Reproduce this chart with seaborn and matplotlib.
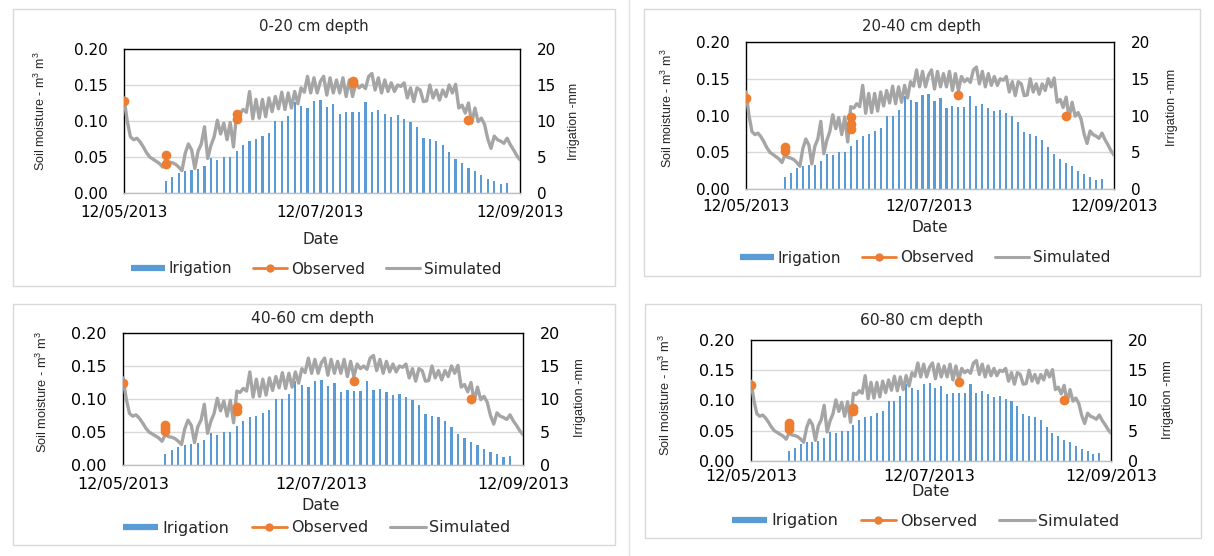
import numpy as np
import pandas as pd
import matplotlib
matplotlib.use("Agg")
import matplotlib.pyplot as plt
from matplotlib.lines import Line2D
from matplotlib.patches import Rectangle
import seaborn as sns

# ---------------- data ----------------
start_date = "2013-05-12"
sim_day = list(range(124))
simulated = [0.132, 0.100, 0.078, 0.074, 0.076, 0.071, 0.064, 0.056, 0.050, 0.047,
             0.044, 0.041, 0.036, 0.046, 0.043, 0.042, 0.040, 0.036, 0.031, 0.055,
             0.068, 0.060, 0.034, 0.058, 0.068, 0.092, 0.048, 0.066, 0.078, 0.101,
             0.082, 0.097, 0.074, 0.098, 0.064, 0.112, 0.110, 0.116, 0.112, 0.141,
             0.103, 0.130, 0.104, 0.130, 0.106, 0.132, 0.113, 0.134, 0.117, 0.140,
             0.116, 0.139, 0.118, 0.141, 0.124, 0.146, 0.140, 0.162, 0.139, 0.160,
             0.139, 0.155, 0.162, 0.136, 0.160, 0.139, 0.157, 0.139, 0.160, 0.134,
             0.157, 0.134, 0.153, 0.146, 0.150, 0.145, 0.162, 0.166, 0.143, 0.160,
             0.139, 0.157, 0.141, 0.153, 0.141, 0.150, 0.148, 0.153, 0.132, 0.146,
             0.127, 0.146, 0.143, 0.127, 0.128, 0.150, 0.132, 0.143, 0.129, 0.143,
             0.134, 0.150, 0.139, 0.151, 0.118, 0.122, 0.111, 0.125, 0.097, 0.118,
             0.099, 0.104, 0.095, 0.075, 0.062, 0.079, 0.074, 0.072, 0.069, 0.076,
             0.067, 0.060, 0.052, 0.046]

irrigation_day = [0, 13, 15, 17, 19, 21, 23, 25, 27, 29, 31, 33, 35, 37, 39, 41, 43, 45,
                  47, 49, 51, 53, 55, 57, 59, 61, 63, 65, 67, 69, 71, 73, 75, 77, 79,
                  81, 83, 85, 87, 89, 91, 93, 95, 97, 99, 101, 103, 105, 107, 109, 111,
                  113, 115, 117, 119]
irrigation_mm = [3.6, 1.7, 2.2, 2.8, 3.1, 3.2, 3.3, 3.8, 4.8, 4.6, 5.0, 5.0, 5.9, 6.7,
                 7.2, 7.5, 7.9, 8.3, 10.0, 10.0, 10.7, 12.7, 12.1, 11.8, 12.8, 12.9,
                 12.0, 12.4, 11.0, 11.3, 11.2, 11.2, 12.7, 11.3, 11.5, 11.0, 10.6, 10.8,
                 10.3, 9.9, 9.1, 7.7, 7.5, 7.2, 6.7, 5.7, 4.7, 4.1, 3.5, 3.1, 2.5, 2.0,
                 1.6, 1.2, 1.4]

obs_day_1 = [0, 13, 13, 35, 35, 71, 71, 107]
obs_val_1 = [0.128, 0.053, 0.040, 0.110, 0.103, 0.156, 0.153, 0.101]
obs_day_2 = [0, 13, 13, 35, 35, 35, 71, 107]
obs_val_2 = [0.124, 0.057, 0.052, 0.098, 0.089, 0.082, 0.128, 0.100]
obs_day_3 = [0, 13, 13, 13, 35, 35, 71, 107]
obs_val_3 = [0.124, 0.061, 0.056, 0.051, 0.088, 0.082, 0.127, 0.100]
obs_day_4 = [0, 13, 13, 13, 35, 35, 71, 107]
obs_val_4 = [0.126, 0.062, 0.058, 0.053, 0.087, 0.082, 0.130, 0.101]

titles = ["0-20 cm depth", "20-40 cm depth", "40-60 cm depth", "60-80 cm depth"]
x_tick_dates = ["2013-05-12", "2013-07-12", "2013-09-12"]
x_tick_labels = ["12/05/2013", "12/07/2013", "12/09/2013"]
left_ticks = [0.00, 0.05, 0.10, 0.15, 0.20]
right_ticks = [0, 5, 10, 15, 20]
legend_labels = ["Irigation", "Observed", "Simulated"]
x_label = "Date"
y_label = "Soil moisture - m$^3$ m$^3$"
y2_label = "Irrigation -mm"

# ---------------- styling ----------------
sns.set_theme(style="white")
plt.rcParams["font.family"] = ["DejaVu Sans"]
plt.rcParams["mathtext.fontset"] = "custom"
plt.rcParams["mathtext.rm"] = "Liberation Sans"
plt.rcParams["mathtext.it"] = "Liberation Sans"

BLUE = "#5B9BD5"
ORANGE = "#ED7D31"
GRAY = "#A5A5A5"
W, H = 1214, 556

def fx(x):
    return x / W

def fy(y):
    return 1 - y / H

# layout (pixels): plot box, title, date label, y labels, legend centre, chart box, font size
layouts = [
    dict(plot=(124, 49, 520, 193), title=(314, 26), date=(321, 239), ylab=(40, 111),
         rlab=(574, 121), leg=(316, 269), box=(13, 9, 615, 286), fs=11, rfs=9.0, xpad=5.3),
    dict(plot=(746, 42, 1114, 189), title=(921, 27), date=(930, 227), ylab=(667, 108),
         rlab=(1172, 107), leg=(925, 258), box=(644, 9, 1200, 276), fs=11, rfs=9.0, xpad=4.5),
    dict(plot=(123, 333, 523, 465), title=(313, 319), date=(321, 506), ylab=(42, 392),
         rlab=(580, 398), leg=(317, 528), box=(13, 304, 615, 545), fs=11.5, rfs=9.2, xpad=6.0),
    dict(plot=(751, 340, 1111, 461), title=(922, 320), date=(931, 492), ylab=(665, 395),
         rlab=(1168, 400), leg=(926, 521), box=(645, 304, 1201, 538), fs=11.5, rfs=9.2, xpad=3.0),
]
observations = [(obs_day_1, obs_val_1), (obs_day_2, obs_val_2),
                (obs_day_3, obs_val_3), (obs_day_4, obs_val_4)]

t0 = pd.Timestamp(start_date)
sim_df = pd.DataFrame({"date": t0 + pd.to_timedelta(sim_day, unit="D"), "value": simulated})
irr_df = pd.DataFrame({"date": t0 + pd.to_timedelta(irrigation_day, unit="D"), "mm": irrigation_mm})
xticks = pd.to_datetime(x_tick_dates)

fig = plt.figure(figsize=(W / 100, H / 100), dpi=100)
fig.patch.set_facecolor("white")

# chart-area frames and sheet separator
for lay in layouts:
    x0, y0, x1, y1 = lay["box"]
    fig.add_artist(Rectangle((fx(x0), fy(y1)), fx(x1 - x0), (y1 - y0) / H, fill=False,
                             edgecolor="#D9D9D9", linewidth=1.0, transform=fig.transFigure))
fig.add_artist(Line2D([fx(629), fx(629)], [0, 1], color="#E3E3E3", linewidth=1.0,
                      transform=fig.transFigure))

for i, lay in enumerate(layouts):
    l, t, r, b = lay["plot"]
    fs = lay["fs"]
    ax = fig.add_axes([fx(l), fy(b), (r - l) / W, (b - t) / H])
    ax2 = ax.twinx()
    ax.set_zorder(ax2.get_zorder() + 1)
    ax.patch.set_visible(False)

    # irrigation bars (right axis)
    ax2.bar(irr_df["date"], irr_df["mm"], width=0.7, color=BLUE, linewidth=0)
    ax2.set_ylim(0, 20)
    ax2.set_yticks(right_ticks)
    ax2.set_yticklabels([str(v) for v in right_ticks])
    ax2.yaxis.grid(True, color="#D9D9D9", linewidth=1.0)
    ax2.xaxis.grid(False)
    ax2.set_axisbelow(True)
    ax2.tick_params(axis="y", length=0, pad=12, labelsize=fs, colors="black")
    for s in ax2.spines.values():
        s.set_visible(False)
    ax2.set_ylabel("")

    # simulated & observed (left axis)
    sns.lineplot(data=sim_df, x="date", y="value", ax=ax, color=GRAY, linewidth=2.4,
                 legend=False, zorder=3)
    od, ov = observations[i]
    obs_df = pd.DataFrame({"date": t0 + pd.to_timedelta(od, unit="D"), "value": ov,
                           "grp": od})
    sns.lineplot(data=obs_df, x="date", y="value", units="grp", estimator=None, ax=ax,
                 color=ORANGE, linewidth=2.0, marker="o", markersize=7,
                 markeredgewidth=0, legend=False, zorder=4, sort=False)

    ax.set_xlim(sim_df["date"].iloc[0], sim_df["date"].iloc[-1])
    ax.set_ylim(0, 0.20)
    ax.set_yticks(left_ticks)
    ax.set_yticklabels([f"{v:.2f}" for v in left_ticks])
    ax.set_xticks(xticks)
    ax.set_xticklabels(x_tick_labels)
    ax.tick_params(axis="y", length=0, pad=12, labelsize=fs, colors="black")
    ax.tick_params(axis="x", length=3, width=0.8, color="#BFBFBF", direction="out",
                   pad=lay["xpad"], labelsize=fs, labelcolor="black")
    ax.grid(False)
    ax.set_xlabel("")
    ax.set_ylabel("")
    for name, s in ax.spines.items():
        s.set_visible(True)
        s.set_linewidth(1.0)
        s.set_color("#BFBFBF" if name == "bottom" else "black")

    # texts
    fig.text(fx(lay["title"][0]), fy(lay["title"][1]), titles[i], ha="center",
             va="center", fontsize=fs - 0.3)
    fig.text(fx(lay["date"][0]), fy(lay["date"][1]), x_label, ha="center",
             va="center", fontsize=fs)
    fig.text(fx(lay["ylab"][0]), fy(lay["ylab"][1]), y_label, rotation=90,
             ha="center", va="center", fontsize=lay["rfs"], family="Liberation Sans")
    fig.text(fx(lay["rlab"][0]), fy(lay["rlab"][1]), y2_label, rotation=90,
             ha="center", va="center", fontsize=lay["rfs"], family="Liberation Sans")

    handles = [Line2D([], [], color=BLUE, linewidth=4.5, solid_capstyle="butt"),
               Line2D([], [], color=ORANGE, linewidth=2.0, marker="o", markersize=6,
                      markeredgewidth=0),
               Line2D([], [], color=GRAY, linewidth=2.2)]
    fig.legend(handles, legend_labels, loc="center",
               bbox_to_anchor=(fx(lay["leg"][0]), fy(lay["leg"][1])), ncol=3,
               frameon=False, fontsize=fs, handlelength=2.2, handletextpad=0.25,
               columnspacing=1.4, borderpad=0, borderaxespad=0)

fig.savefig("out.png", dpi=100, facecolor="white")
